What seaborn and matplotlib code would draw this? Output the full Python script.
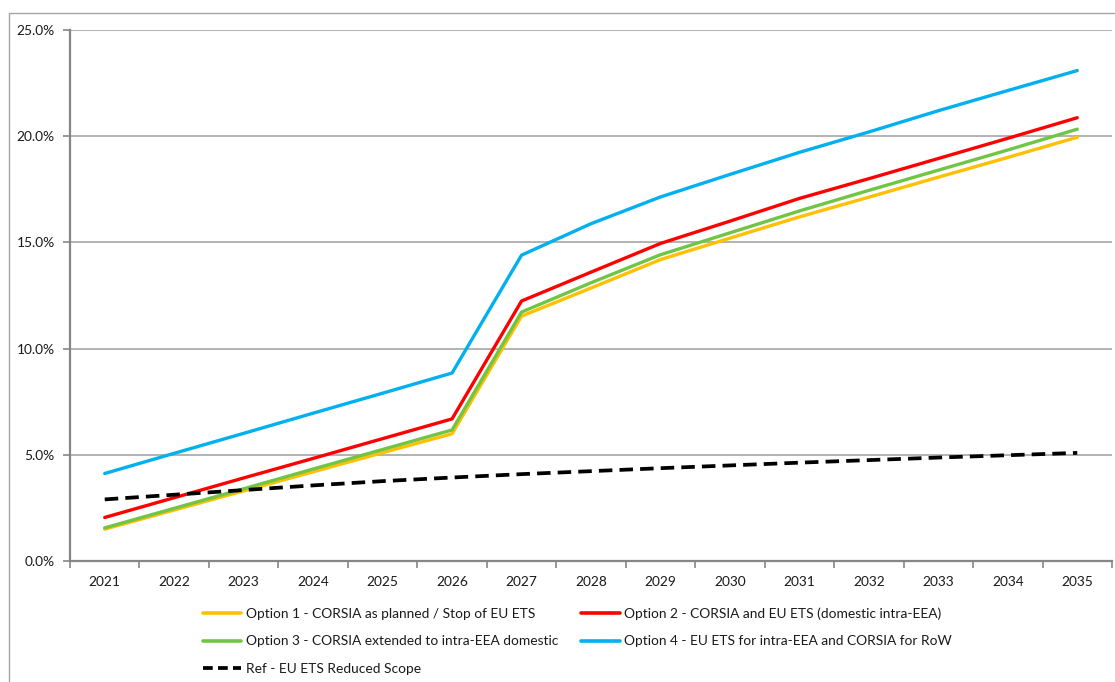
import numpy as np
import pandas as pd
import matplotlib
matplotlib.use("Agg")
import matplotlib.pyplot as plt
import seaborn as sns
from matplotlib.ticker import FixedLocator, FuncFormatter, NullFormatter
from matplotlib.lines import Line2D

# Share of emissions covered, per year and policy option (fractions)
years = list(range(2021, 2036))
option1 = [0.0150, 0.0240, 0.0330, 0.0420, 0.0510, 0.0599, 0.1153, 0.1285, 0.1419,
           0.1520, 0.1620, 0.1713, 0.1807, 0.1900, 0.1995]
option2 = [0.0205, 0.0298, 0.0391, 0.0483, 0.0576, 0.0669, 0.1224, 0.1360, 0.1495,
           0.1600, 0.1707, 0.1800, 0.1895, 0.1990, 0.2087]
option3 = [0.0156, 0.0248, 0.0340, 0.0433, 0.0525, 0.0617, 0.1172, 0.1310, 0.1442,
           0.1545, 0.1648, 0.1745, 0.1840, 0.1935, 0.2033]
option4 = [0.0412, 0.0507, 0.0601, 0.0696, 0.0790, 0.0885, 0.1440, 0.1588, 0.1714,
           0.1820, 0.1924, 0.2020, 0.2120, 0.2215, 0.2309]
reference = [0.0290, 0.0312, 0.0334, 0.0356, 0.0376, 0.0393, 0.0409, 0.0423, 0.0437,
             0.0450, 0.0463, 0.0475, 0.0487, 0.0498, 0.0509]

labels = [
    "Option 1 - CORSIA as planned / Stop of EU ETS",
    "Option 2 - CORSIA and EU ETS (domestic intra-EEA)",
    "Option 3 - CORSIA extended to intra-EEA domestic",
    "Option 4 - EU ETS for intra-EEA and CORSIA for RoW",
]
ref_label = "Ref - EU ETS Reduced Scope"
colors = ["#FFC000", "#FF0000", "#70C544", "#00B0F0"]
ref_color = "#000000"

options = pd.DataFrame({
    "year": years * 4,
    "share": option1 + option2 + option3 + option4,
    "series": [lab for lab in labels for _ in years],
})
ref = pd.DataFrame({"year": years, "share": reference})

sns.set_style("white")
plt.rcParams["font.family"] = ["Lato", "DejaVu Sans"]
text_color = "#1A1A1A"
plt.rcParams["text.color"] = text_color
font_size = 9.9

W, H = 1115, 682
fig = plt.figure(figsize=(W / 100, H / 100), dpi=100)
ax = fig.add_axes([70 / W, 1 - 561 / H, (1112 - 70) / W, (561 - 30) / H])

sns.lineplot(data=options, x="year", y="share", hue="series", hue_order=labels,
             palette=dict(zip(labels, colors)), linewidth=2.4, legend=False,
             ax=ax, solid_capstyle="round", zorder=3)
sns.lineplot(data=ref, x="year", y="share", color=ref_color, linewidth=2.7,
             dashes=(3.6, 1.9), legend=False, ax=ax, zorder=4)

# Axes limits and ticks: categories centred between boundary tick marks
ax.set_xlim(years[0] - 0.5, years[-1] + 0.5)
ax.set_ylim(0, 0.25)
ax.xaxis.set_major_locator(FixedLocator(np.arange(years[0] - 0.5, years[-1] + 1.0, 1.0)))
ax.xaxis.set_major_formatter(NullFormatter())
ax.xaxis.set_minor_locator(FixedLocator(years))
ax.xaxis.set_minor_formatter(FuncFormatter(lambda v, p: f"{int(round(v))}"))
ax.yaxis.set_major_locator(FixedLocator(np.arange(0, 0.2501, 0.05)))
ax.yaxis.set_major_formatter(FuncFormatter(lambda v, p: f"{v * 100:.1f}%"))

axis_gray = "#868686"
ax.tick_params(axis="x", which="major", direction="out", length=5, width=1.2,
               color=axis_gray, bottom=True)
ax.tick_params(axis="x", which="minor", length=0, pad=10.5, labelsize=font_size,
               labelcolor=text_color, bottom=True)
ax.tick_params(axis="y", which="major", direction="out", length=5, width=1.2,
               color=axis_gray, left=True, pad=6, labelsize=font_size,
               labelcolor=text_color)

ax.grid(axis="y", color="#A6A6A6", linewidth=1.2)
ax.grid(axis="x", visible=False)
for side in ("top", "right"):
    ax.spines[side].set_visible(False)
for side in ("left", "bottom"):
    ax.spines[side].set_color(axis_gray)
    ax.spines[side].set_linewidth(1.6)
    ax.spines[side].set_zorder(5)
ax.set_xlabel("")
ax.set_ylabel("")

# Legend in two columns, filled row by row
handles = [Line2D([], [], color=c, linewidth=2.6) for c in colors]
ref_handle = Line2D([], [], color=ref_color, linewidth=2.7, dashes=(2.6, 1.4))
order = [0, 2, None, 1, 3]
leg_handles = [ref_handle if i is None else handles[i] for i in order]
leg_labels = [ref_label if i is None else labels[i] for i in order]
fig.legend(leg_handles, leg_labels, ncol=2, frameon=False, loc="upper left",
           bbox_to_anchor=(203 / W, 1 - 607 / H), fontsize=font_size,
           handlelength=2.8, handletextpad=0.3, labelspacing=1.15,
           columnspacing=1.7, borderpad=0, borderaxespad=0)

# Chart area frame
frame_kw = dict(color="#A6A6A6", linewidth=1.0, transform=fig.transFigure)
fig.add_artist(Line2D([9 / W, 1.0], [1 - 13 / H, 1 - 13 / H], **frame_kw))
fig.add_artist(Line2D([9 / W, 9 / W], [1 - 13 / H, 0.0], **frame_kw))

fig.savefig("out.png", dpi=100)
